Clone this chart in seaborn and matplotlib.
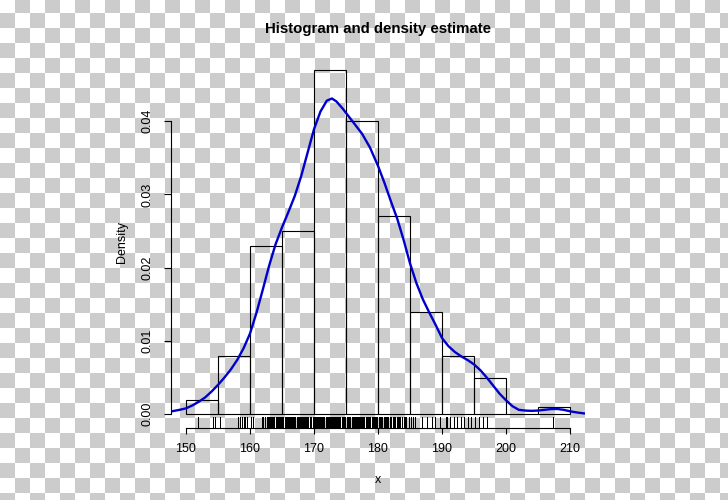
import numpy as np
import matplotlib
matplotlib.use("Agg")
import matplotlib.pyplot as plt
import seaborn as sns

# histogram: bin edges and density heights
bin_edges = [150, 155, 160, 165, 170, 175, 180, 185, 190, 195, 200, 205, 210]
bin_density = [0.002, 0.008, 0.023, 0.025, 0.047, 0.040, 0.027, 0.014, 0.008, 0.005, 0.0, 0.001]

# density estimate curve
dens_x = [147.8, 149, 150, 151, 152, 153, 154, 155, 156, 157, 158, 159, 160,
          161, 162, 163, 164, 165, 166, 167, 168, 169, 170, 171, 172, 172.8,
          173.5, 174.5, 176, 177.5, 178.75, 180, 181, 182, 183, 184, 185, 186,
          187, 188, 189, 190, 191, 192, 193, 194, 195, 196, 197, 198, 199, 200,
          201, 202, 203, 204, 205, 206, 207, 208, 209, 210, 211, 212.3]
dens_y = [0.0004, 0.0006, 0.0008, 0.0012, 0.0017, 0.0023, 0.0031, 0.0040, 0.0050,
          0.0061, 0.0074, 0.0090, 0.0110, 0.0138, 0.0170, 0.0203, 0.0232, 0.0255,
          0.0276, 0.0298, 0.0325, 0.0357, 0.0389, 0.0413, 0.0428, 0.0431, 0.0427,
          0.0417, 0.0400, 0.0383, 0.0364, 0.0339, 0.0316, 0.0291, 0.0267, 0.0238,
          0.0206, 0.0179, 0.0157, 0.0139, 0.0122, 0.0104, 0.0093, 0.0085, 0.0079,
          0.0074, 0.0068, 0.0060, 0.0050, 0.0039, 0.0028, 0.0019, 0.0011, 0.0006,
          0.0005, 0.00046, 0.0005, 0.0006, 0.0007, 0.00072, 0.0006, 0.0004,
          0.00025, 0.0001]

# rug positions (observations)
rug_x = [151.9, 154.2, 154.5, 155.3,
         158.1, 158.4, 158.7, 159.0, 159.2, 159.6, 160.2, 160.4,
         161.9, 162.1, 162.4, 162.6, 162.8, 163.1, 163.3, 163.6, 163.8, 164.0,
         164.3, 164.5, 164.8, 165.2, 165.4, 165.6, 165.9, 166.1, 166.4, 166.6,
         166.9, 167.1, 167.3, 167.6, 167.8, 168.1, 168.3, 168.6, 168.9, 169.1,
         169.3, 169.6, 169.8, 170.0, 170.2, 170.4, 170.6, 170.8, 171.0, 171.2,
         171.4, 171.6, 171.8, 172.0, 172.2, 172.5, 172.8, 173.0, 173.3, 173.5,
         173.8, 174.1, 174.3, 174.6, 174.9, 175.1, 175.4, 175.7, 175.9, 176.2,
         176.5, 176.7, 177.0, 177.3, 177.6, 177.8, 178.1, 178.4, 178.7, 179.0,
         179.2, 179.5, 179.8, 180.1, 180.4, 180.6, 180.9, 181.3, 181.6, 181.9,
         182.3, 182.6, 182.9, 183.3, 183.7, 184.0, 184.4, 184.8, 185.1, 185.5,
         185.8, 186.8, 187.6, 188.4, 188.9, 189.7, 190.6, 190.8, 191.25, 191.9,
         192.3, 192.9, 193.5, 194.1, 194.6, 195.2, 195.8, 196.4, 197.0, 207.4,
         # extra ties filling the near-solid stretch of the rug
         162.95, 163.45, 164.15, 164.65, 165.05, 165.75, 166.25, 166.75, 167.45,
         167.95, 168.45, 168.75, 169.45, 169.9, 170.3, 170.7, 171.1, 171.5,
         171.9, 172.35, 172.65, 173.15, 173.65, 173.95, 174.45, 174.75, 175.25,
         175.55, 176.05, 176.35, 176.85, 177.15, 177.45, 178.25, 178.55, 179.35,
         179.65, 180.25, 181.1, 181.45, 182.1, 182.45, 183.1, 183.5, 184.2]

bin_mid = [(a + b) / 2 for a, b in zip(bin_edges[:-1], bin_edges[1:])]

sns.set_style("ticks")
plt.rcParams["font.family"] = ["Liberation Sans", "DejaVu Sans"]
plt.rcParams["text.color"] = "black"
plt.rcParams["axes.labelcolor"] = "black"

W, H = 728, 500
fig = plt.figure(figsize=(W / 100, H / 100), dpi=100)

# transparent-png checkerboard behind everything
bg = fig.add_axes([0, 0, 1, 1], zorder=-5)
yy, xx = np.mgrid[0:H, 0:W]
checker = (((yy + 2) // 15 + xx // 15) % 2).astype(float)
bg.imshow(checker, cmap="gray_r", vmin=0, vmax=5, interpolation="nearest",
          extent=[0, W, H, 0], aspect="auto")
bg.axis("off")

# plot region in pixels
left, right, top, bottom = 170.6, 585.4, 56, 428
ax = fig.add_axes([left / W, 1 - bottom / H, (right - left) / W, (bottom - top) / H])
ax.patch.set_alpha(0)

sns.histplot(x=bin_mid, weights=bin_density, bins=bin_edges, stat="count",
             fill=False, color="black", linewidth=0.8, ax=ax)
sns.lineplot(x=dens_x, y=dens_y, color="#0000CD", linewidth=1.7, ax=ax)
sns.rugplot(x=rug_x, height=0.03, color="black", linewidth=0.72,
            antialiased=False, expand_margins=False, ax=ax)

ax.set_xlim(147.6, 212.4)
ax.set_ylim(-0.00188, 0.0489)
ax.set_xticks([150, 160, 170, 180, 190, 200, 210])
ax.set_yticks([0.00, 0.01, 0.02, 0.03, 0.04])
ax.set_yticklabels(["0.00", "0.01", "0.02", "0.03", "0.04"])

for s in ["top", "right"]:
    ax.spines[s].set_visible(False)
ax.spines["left"].set_bounds(0, 0.04)
ax.spines["bottom"].set_bounds(150, 210)
for s in ["left", "bottom"]:
    ax.spines[s].set_linewidth(0.8)
    ax.spines[s].set_color("black")

ax.tick_params(axis="x", length=4.5, width=0.8, pad=6.5, labelsize=9, colors="black")
ax.tick_params(axis="y", length=5, width=0.8, pad=7, labelsize=9, colors="black",
               labelrotation=90)
for lab in ax.get_yticklabels():
    lab.set_va("center")

ax.set_xlabel("x", fontsize=9)
ax.set_ylabel("Density", fontsize=9)
ax.xaxis.set_label_coords(0.5, (bottom - 480) / (bottom - top))
ax.xaxis.label.set_va("center")
ax.yaxis.set_label_coords((122 - left) / (right - left), 0.5)
ax.yaxis.label.set_va("center")

ax.text(0.5, (bottom - 29) / (bottom - top), "Histogram and density estimate",
        transform=ax.transAxes, ha="center", va="center",
        fontsize=10.8, fontweight="bold", color="black")

fig.savefig("out.png", dpi=100)
